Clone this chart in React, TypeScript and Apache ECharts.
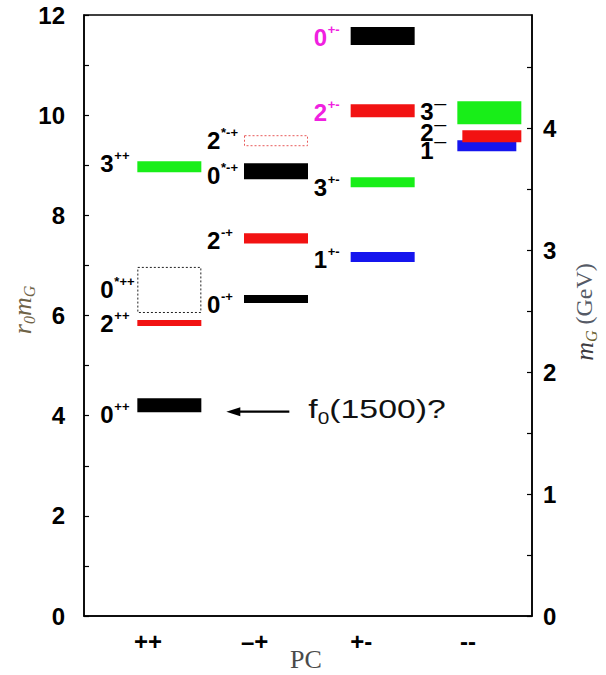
import React, { useEffect, useRef } from 'react';
import * as echarts from 'echarts';

// PC sectors along the x axis (positions 1..4)
const pcLabels = ['++', '–+', '+-', '--'];

// Left axis: r0 * mG ; right axis: mG in GeV
const leftTickLabels = [0, 2, 4, 6, 8, 10, 12];
const leftTickMarks = [0, 1, 2, 3, 4, 5, 6, 7, 8, 9, 10, 11, 12];
const rightTickLabels = [0, 1, 2, 3, 4];
const rightTickMarks = [0, 0.5, 1, 1.5, 2, 2.5, 3, 3.5, 4, 4.5];
const r0mGPerGeV = 2.435;

// Glueball states
const stateColumn = [1, 1, 1, 1, 2, 2, 2, 2, 3, 3, 3, 3, 4, 4, 4];
const stateSpin = ['0', '2', '0', '3', '0', '2', '0', '2', '1', '3', '2', '0', '1', '2', '3'];
const stateSup = ['++', '++', '*++', '++', '-+', '-+', '*-+', '*-+', '+-', '+-', '+-', '+-', '—', '—', '—'];
const stateMass = [4.21, 5.85, 6.51, 8.97, 6.33, 7.54, 8.88, 9.49, 7.17, 8.66, 10.09, 11.58, 9.39, 9.58, 10.05];
const stateError = [0.14, 0.06, 0.46, 0.11, 0.08, 0.1, 0.16, 0.11, 0.1, 0.1, 0.13, 0.18, 0.11, 0.12, 0.23];
const stateOutlined = [false, false, true, false, false, false, false, true, false, false, false, false, false, false, false];
const stateExotic = [false, false, false, false, false, false, false, false, false, false, true, true, false, false, false];

const annotationText = '(1500)?';

// drawing styles
const SANS = '"Liberation Sans", Arial, Helvetica, sans-serif';
const SERIF = '"Liberation Serif", "DejaVu Serif", "Times New Roman", serif';
const spinColor: Record<string, string> = { '0': '#000000', '1': '#1515ee', '2': '#f21212', '3': '#18ee18' };
const outlineColor: Record<string, string> = { '0': '#222222', '2': '#e85a5a' };
const exoticColor = '#f020e0';
// small vertical label shifts (px) and bar end trims (axis units)
const labelNudge: Record<string, number> = {
  '0++': 9, '2++': 0.5, '0*++': 0, '3++': -3.5,
  '0-+': 5.5, '2-+': 2, '0*-+': 4, '2*-+': -0.5,
  '1+-': 3, '3+-': 5.5, '2+-': 2, '0+-': 1.5,
  '1—': 4.5, '2—': -3.5, '3—': -1,
};
const barTrim: Record<string, [number, number]> = { '2—': [0.047, 0], '1—': [0, 0.047] };

export default function App() {
  const ref = useRef<HTMLDivElement>(null);

  useEffect(() => {
    if (!ref.current) return;
    const chart = echarts.init(ref.current, undefined, { renderer: 'svg' });

    const stateData = stateMass.map((m, i) => [stateColumn[i], m, stateError[i]]);

    const renderState = (params: any, api: any) => {
      const i = params.dataIndex;
      const col = api.value(0) as number;
      const m = api.value(1) as number;
      const e = api.value(2) as number;
      const spin = stateSpin[i];
      const sup = stateSup[i];
      const key = spin + sup;
      const trim = barTrim[key] || [0, 0];
      const p0 = api.coord([col - 0.1 + trim[0], m + e]);
      const p1 = api.coord([col + 0.5 - trim[1], m - e]);
      const baseLeft = api.coord([col - 0.1, m])[0];
      const cy = api.coord([col, m])[1];
      const children: any[] = [];
      if (stateOutlined[i]) {
        children.push({
          type: 'rect',
          shape: { x: p0[0] + 0.5, y: p0[1] + 0.5, width: p1[0] - p0[0] - 1, height: p1[1] - p0[1] - 1 },
          style: { fill: 'none', stroke: outlineColor[spin], lineWidth: 1, lineDash: [2, 2] },
        });
      } else {
        children.push({
          type: 'rect',
          shape: { x: p0[0], y: p0[1], width: p1[0] - p0[0], height: p1[1] - p0[1] },
          style: { fill: spinColor[spin] },
        });
      }
      const ly = cy + (labelNudge[key] || 0);
      const txtColor = stateExotic[i] ? exoticColor : '#000';
      children.push({
        type: 'text',
        style: {
          x: baseLeft - 37, y: ly, text: spin, fill: txtColor, lineHeight: 17,
          font: `bold 24px ${SANS}`, textAlign: 'left', textVerticalAlign: 'middle', align: 'left', verticalAlign: 'middle',
        },
      });
      children.push({
        type: 'text',
        style: {
          x: baseLeft - 23, y: ly - 8, text: sup, fill: txtColor, lineHeight: 9,
          font: `bold ${sup === '—' ? 12 : 13}px ${SANS}`, textAlign: 'left', textVerticalAlign: 'middle', align: 'left', verticalAlign: 'middle',
        },
      });
      return { type: 'group', children };
    };

    const renderAnnotation = (params: any, api: any) => {
      const col = api.value(0) as number;
      const m = api.value(1) as number;
      const right = api.coord([col + 0.5, m])[0];
      const cy = api.coord([col, m])[1];
      const ay = cy + 6.5;
      const tx = right + 107;
      const ty = cy + 4;
      return {
        type: 'group',
        children: [
          { type: 'line', shape: { x1: right + 36, y1: ay, x2: right + 88, y2: ay }, style: { stroke: '#000', lineWidth: 2.2 } },
          { type: 'polygon', shape: { points: [[right + 25, ay], [right + 39, ay - 4.5], [right + 39, ay + 4.5]] }, style: { fill: '#000' } },
          {
            type: 'text', x: tx, y: ty, scaleX: 1.3,
            style: { x: 0, y: 0, text: 'f', fill: '#111', font: `26px ${SANS}`, textAlign: 'left', textVerticalAlign: 'middle', align: 'left', verticalAlign: 'middle' },
          },
          {
            type: 'text', x: tx + 9.5, y: ty + 9, scaleX: 1.3,
            style: { x: 0, y: 0, text: '0', fill: '#111', font: `16px ${SANS}`, textAlign: 'left', textVerticalAlign: 'middle', align: 'left', verticalAlign: 'middle' },
          },
          {
            type: 'text', x: tx + 21, y: ty, scaleX: 1.3,
            style: { x: 0, y: 0, text: annotationText, fill: '#111', font: `26px ${SANS}`, textAlign: 'left', textVerticalAlign: 'middle', align: 'left', verticalAlign: 'middle' },
          },
        ],
      };
    };

    const axisLineStyle = { color: '#000', width: 1.5 };
    const tickLabelStyle = { fontSize: 24, fontWeight: 'bold' as const, color: '#000', fontFamily: SANS };

    chart.setOption({
      animation: false,
      grid: {
        left: 84, right: 74, top: 15, bottom: 59,
        show: true, borderColor: '#000', borderWidth: 1.5, backgroundColor: 'transparent',
      },
      xAxis: {
        type: 'value', min: 0.4, max: 4.6,
        splitLine: { show: false },
        axisLine: { show: true, lineStyle: axisLineStyle },
        axisTick: { show: false },
        axisLabel: {
          ...tickLabelStyle, margin: 13,
          customValues: [1, 2, 3, 4],
          formatter: (v: number) => pcLabels[Math.round(v) - 1] || '',
        },
      },
      yAxis: [
        {
          type: 'value', min: 0, max: 12, position: 'left',
          splitLine: { show: false },
          axisLine: { show: true, lineStyle: axisLineStyle },
          axisTick: { show: true, inside: true, length: 5, customValues: leftTickMarks, lineStyle: { color: '#000', width: 1.2 } },
          axisLabel: { ...tickLabelStyle, margin: 19, customValues: leftTickLabels },
        },
        {
          type: 'value', min: 0, max: 12 / r0mGPerGeV, position: 'right',
          splitLine: { show: false },
          axisLine: { show: true, lineStyle: axisLineStyle },
          axisTick: { show: true, inside: true, length: 5, customValues: rightTickMarks, lineStyle: { color: '#000', width: 1.2 } },
          axisLabel: { ...tickLabelStyle, margin: 11, customValues: rightTickLabels },
        },
      ],
      series: [
        {
          type: 'custom', name: 'states', xAxisIndex: 0, yAxisIndex: 0,
          data: stateData, renderItem: renderState, clip: false, silent: true,
        },
        {
          type: 'custom', name: 'f0', xAxisIndex: 0, yAxisIndex: 0,
          data: [[stateColumn[0], stateMass[0]]], renderItem: renderAnnotation, clip: false, silent: true,
        },
      ],
      graphic: [
        {
          type: 'text', left: 290, top: 646,
          style: { text: 'PC', fill: '#4a4a4a', font: `26px ${SERIF}` },
        },
        {
          type: 'text', x: 22, y: 310, rotation: Math.PI / 2,
          style: {
            x: 0, y: 0, text: '{i|r}{s|0}{i|m}{s|G}', fill: '#6f6347',
            textAlign: 'center', textVerticalAlign: 'middle', align: 'center', verticalAlign: 'middle',
            rich: {
              i: { fontFamily: SERIF, fontStyle: 'italic', fontSize: 26, lineHeight: 30, verticalAlign: 'middle', fill: '#6f6347' },
              s: { fontFamily: SERIF, fontStyle: 'italic', fontSize: 16, lineHeight: 30, verticalAlign: 'bottom', fill: '#6f6347' },
            },
          },
        },
        {
          type: 'text', x: 584, y: 312, rotation: Math.PI / 2,
          style: {
            x: 0, y: 0, text: '{i|m}{s|G}{n| (GeV)}', fill: '#555a66',
            textAlign: 'center', textVerticalAlign: 'middle', align: 'center', verticalAlign: 'middle',
            rich: {
              i: { fontFamily: SERIF, fontStyle: 'italic', fontSize: 26, lineHeight: 30, verticalAlign: 'middle', fill: '#3c3a40' },
              s: { fontFamily: SERIF, fontStyle: 'italic', fontSize: 16, lineHeight: 30, verticalAlign: 'bottom', fill: '#6a6030' },
              n: { fontFamily: SERIF, fontSize: 24, lineHeight: 30, verticalAlign: 'middle', fill: '#555a66' },
            },
          },
        },
      ],
    });

    return () => chart.dispose();
  }, []);

  return <div ref={ref} style={{ width: 606, height: 675, position: 'absolute', left: 0, top: 0, background: '#fff' }} />;
}
